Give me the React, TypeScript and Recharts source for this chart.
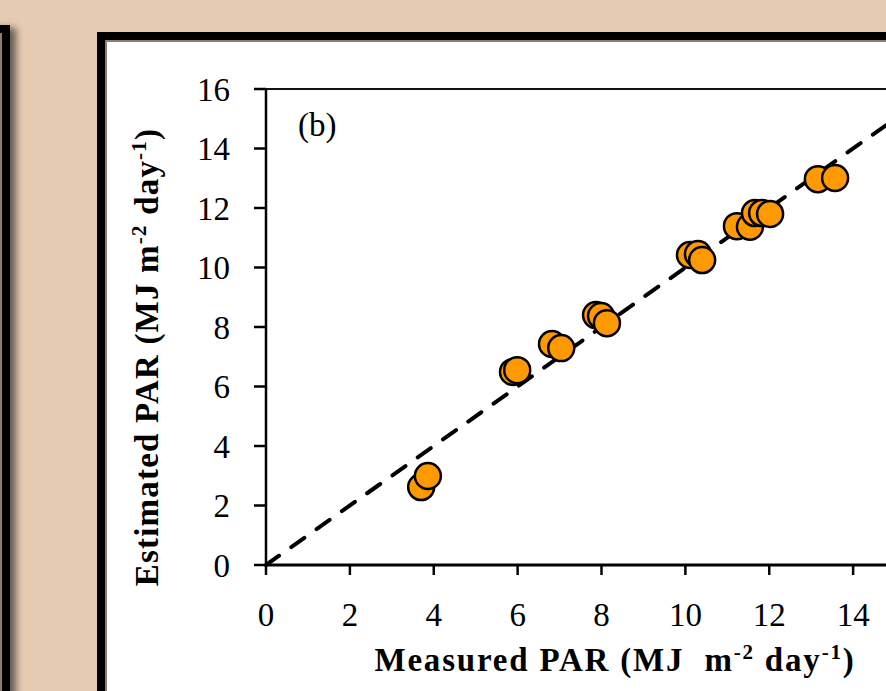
import { ReferenceLine, Scatter, ScatterChart, XAxis, YAxis } from "recharts";

// Measured vs estimated PAR (MJ m-2 day-1)
const measured = [
  3.7, 3.86, 5.89, 5.99, 6.82, 7.04, 7.87, 7.99, 8.13, 10.11, 10.3, 10.4,
  11.23, 11.54, 11.66, 11.83, 12.02, 13.16, 13.57,
];
const estimated = [
  2.62, 2.99, 6.49, 6.55, 7.43, 7.29, 8.4, 8.37, 8.13, 10.42, 10.45, 10.25,
  11.39, 11.37, 11.83, 11.83, 11.8, 12.97, 13.01,
];
const xTicks = [0, 2, 4, 6, 8, 10, 12, 14];
const yTicks = [0, 2, 4, 6, 8, 10, 12, 14, 16];
// 1:1 line
const oneToOne = [
  { x: 0, y: 0 },
  { x: 16, y: 16 },
];

const points = measured.map((m, i) => ({ x: m, y: estimated[i] }));

const BEIGE = "#E5CBB1";
const INNER = "#8C7D6D";
const FONT = "'Liberation Serif', 'Times New Roman', serif";

const Dot = (props: any) => {
  const { cx, cy } = props;
  if (cx == null || cy == null) return <g />;
  return (
    <circle cx={cx} cy={cy} r={13} fill="#FF9900" stroke="#000" strokeWidth={2.5} />
  );
};

const XTitle = () => (
  <text
    x={615}
    y={671}
    textAnchor="middle"
    fontFamily={FONT}
    fontWeight="bold"
    fontSize={33}
    letterSpacing={1.8}
    fill="#000"
    style={{ whiteSpace: "pre" }}
  >
    <tspan>Measured PAR (MJ  m</tspan>
    <tspan fontSize={21} dy={-12}>-2</tspan>
    <tspan dy={12}> day</tspan>
    <tspan fontSize={21} dy={-12}>-1</tspan>
    <tspan dy={12}>)</tspan>
  </text>
);

const YTitle = () => (
  <text
    x={158}
    y={357}
    transform="rotate(-90, 158, 357)"
    textAnchor="middle"
    fontFamily={FONT}
    fontWeight="bold"
    fontSize={33}
    letterSpacing={1.2}
    fill="#000"
  >
    <tspan>Estimated PAR (MJ m</tspan>
    <tspan fontSize={21} dy={-12}>-2</tspan>
    <tspan dy={12}> day</tspan>
    <tspan fontSize={21} dy={-12}>-1</tspan>
    <tspan dy={12}>)</tspan>
  </text>
);

export default function App() {
  return (
    <div
      style={{
        position: "absolute",
        left: 0,
        top: 0,
        width: 886,
        height: 691,
        overflow: "hidden",
        background: BEIGE,
      }}
    >
      <div
        style={{
          position: "absolute",
          left: -300,
          top: 25,
          width: 294,
          height: 1000,
          border: "8px solid #000",
          background: "#fff",
          boxShadow: `inset 0 0 0 2px ${INNER}, 6px 3px 7px rgba(0,0,0,0.55)`,
        }}
      />
      <div
        style={{
          position: "absolute",
          left: 97,
          top: 32,
          width: 1000,
          height: 1000,
          border: "8px solid #000",
          background: "#fff",
          boxShadow: `inset 0 0 0 2px ${INNER}`,
        }}
      />
      <div style={{ position: "absolute", left: 0, top: 0 }}>
        <ScatterChart
          width={1000}
          height={691}
          margin={{ top: 89, right: 63, bottom: 0, left: 0 }}
        >
          <XAxis
            type="number"
            dataKey="x"
            domain={[0, 16]}
            ticks={xTicks}
            interval={0}
            height={126}
            tickSize={10}
            tickMargin={28}
            axisLine={{ stroke: "#000", strokeWidth: 3 }}
            tickLine={{ stroke: "#000", strokeWidth: 2.5 }}
            tick={{ fill: "#000", fontFamily: FONT, fontSize: 33 }}
            label={<XTitle />}
          />
          <YAxis
            type="number"
            dataKey="y"
            domain={[0, 16]}
            ticks={yTicks}
            interval={0}
            width={266}
            tickSize={12}
            tickMargin={24}
            axisLine={{ stroke: "#000", strokeWidth: 2.5 }}
            tickLine={{ stroke: "#000", strokeWidth: 2.5 }}
            tick={{ fill: "#000", fontFamily: FONT, fontSize: 33 }}
            label={<YTitle />}
          />
          <ReferenceLine y={16} stroke="#111" strokeWidth={2} />
          <Scatter
            data={oneToOne}
            line={{
              stroke: "#000",
              strokeWidth: 4,
              strokeDasharray: "16 15",
              strokeLinecap: "round",
            }}
            shape={() => <g />}
            legendType="none"
            isAnimationActive={false}
          />
          <Scatter
            data={points}
            shape={Dot}
            isAnimationActive={false}
          />
        </ScatterChart>
      </div>
      <div
        style={{
          position: "absolute",
          left: 298,
          top: 109,
          fontFamily: FONT,
          fontSize: 33,
          lineHeight: "33px",
          color: "#000",
        }}
      >
        (b)
      </div>
    </div>
  );
}
